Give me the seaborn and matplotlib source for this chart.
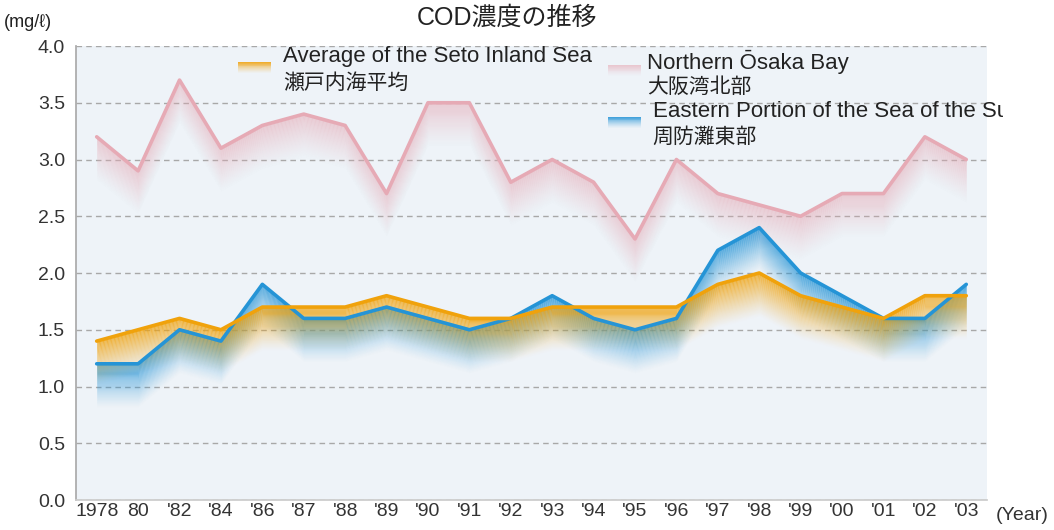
import matplotlib
matplotlib.use("Agg")
import matplotlib.pyplot as plt
from matplotlib.patches import Rectangle
from matplotlib.transforms import Bbox, TransformedBbox
import numpy as np
import pandas as pd
import seaborn as sns

years = ["1978", "80", "'82", "'84", "'86", "'87", "'88", "'89", "'90", "'91", "'92",
         "'93", "'94", "'95", "'96", "'97", "'98", "'99", "'00", "'01", "'02", "'03"]
seto_avg = [1.4, 1.5, 1.6, 1.5, 1.7, 1.7, 1.7, 1.8, 1.7, 1.6, 1.6,
            1.7, 1.7, 1.7, 1.7, 1.9, 2.0, 1.8, 1.7, 1.6, 1.8, 1.8]
osaka_north = [3.2, 2.9, 3.7, 3.1, 3.3, 3.4, 3.3, 2.7, 3.5, 3.5, 2.8,
               3.0, 2.8, 2.3, 3.0, 2.7, 2.6, 2.5, 2.7, 2.7, 3.2, 3.0]
suo_east = [1.2, 1.2, 1.5, 1.4, 1.9, 1.6, 1.6, 1.7, 1.6, 1.5, 1.6,
            1.8, 1.6, 1.5, 1.6, 2.2, 2.4, 2.0, 1.8, 1.6, 1.6, 1.9]
yticks = [0.0, 0.5, 1.0, 1.5, 2.0, 2.5, 3.0, 3.5, 4.0]

series = [
    ("Northern Ōsaka Bay", "大阪湾北部", osaka_north, "#e6aab5", 0.6),
    ("Eastern Portion of the Sea of the Suo", "周防灘東部", suo_east, "#2594d6", 0.85),
    ("Average of the Seto Inland Sea", "瀬戸内海平均", seto_avg, "#f0a20c", 0.85),
]

sns.set_theme(style="white")
plt.rcParams["font.family"] = ["Liberation Sans", "Noto Sans CJK JP", "DejaVu Sans"]

fig = plt.figure(figsize=(10.54, 5.30), dpi=100)
ax = fig.add_axes([0.0721, 0.0566, 0.8643, 0.8566])
ax.set_facecolor("#eef3f8")

x = np.arange(len(years))
df = pd.DataFrame({"x": x})

# gradient band below each line
depth = 0.38
n = 40
for name, jp, vals, col, a0 in series:
    y = np.array(vals)
    for k in range(n):
        a = a0 * (1 - k / n) ** 1.3
        ax.fill_between(x, y - depth * k / n, y - depth * (k + 1) / n,
                        color=col, alpha=a, linewidth=0, antialiased=False, zorder=2)
    df[name] = vals
    sns.lineplot(data=df, x="x", y=name, color=col, lw=2.6, ax=ax, zorder=3)

ax.set_xlim(-0.5, len(years) - 0.5)
ax.set_ylim(0, 4.0)
ax.set_yticks(yticks)
ax.set_yticklabels([f"{v:.1f}" for v in yticks], fontsize=14, color="#333333")
ax.set_xticks(x)
ax.set_xticklabels(years, fontsize=14, color="#333333")
ax.set_xticks(np.arange(0.5, len(years) - 1), minor=True)
ax.tick_params(axis="x", which="major", length=0, pad=2)
ax.tick_params(axis="x", which="minor", direction="in", length=10, color="#aaaaaa", width=1)
ax.tick_params(axis="y", length=0, pad=8)
ax.set_xlabel("")
ax.set_ylabel("")
ax.yaxis.grid(True, linestyle=(0, (4, 3)), color="#a8a8a8", lw=1)
ax.xaxis.grid(False)
for s in ["top", "right"]:
    ax.spines[s].set_visible(False)
ax.spines["left"].set_color("#aaaaaa")
ax.spines["bottom"].set_color("#cccccc")

# legend drawn by hand
clip = TransformedBbox(Bbox([[0, 0], [1003 / 1054, 1]]), fig.transFigure)
leg = [
    (0.178, 0.965, 0.227, 0.976, 0.918, 2),
    (0.584, 0.958, 0.627, 0.965, 0.910, 0),
    (0.584, 0.844, 0.633, 0.855, 0.800, 1),
]
for px, py, tx, ty1, ty2, i in leg:
    name, jp, vals, col, a0 in [series[i]]
    name, jp, vals, col, a0 = series[i]
    for k in range(12):
        ax.add_patch(Rectangle((px, py - 0.002 * (k + 1)), 0.036, 0.002,
                               transform=ax.transAxes, color=col,
                               alpha=a0 * (1 - k / 12) ** 1.3, lw=0, clip_on=False))
    t = ax.text(tx, ty1, name, transform=ax.transAxes, fontsize=16, color="#222222",
                va="center", ha="left")
    t.set_clip_box(clip)
    t.set_clip_on(True)
    ax.text(tx, ty2, jp, transform=ax.transAxes, fontsize=15, color="#222222",
            va="center", ha="left")

fig.text(0.481, 0.966, "COD濃度の推移", fontsize=18, ha="center", va="center", color="#222222")
fig.text(0.004, 0.958, "(mg/ℓ)", fontsize=13, ha="left", va="center", color="#222222")
fig.text(0.945, 0.028, "(Year)", fontsize=14, ha="left", va="center", color="#333333")

fig.savefig("out.png", dpi=100, facecolor="white")
